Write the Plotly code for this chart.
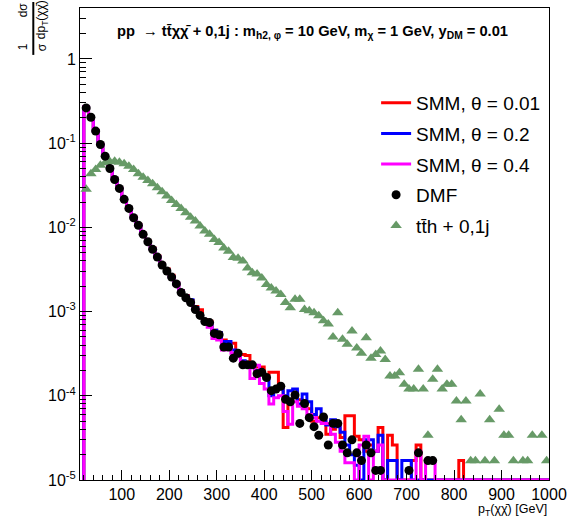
import numpy as np
import plotly.graph_objects as go

# ---------------- data ----------------
BIN_LOW = 20
BIN_WIDTH = 10
N_BINS = 98
FLOOR = 1e-5  # empty bins are drawn at the bottom of the frame (ROOT style)

smm_001 = [
    0.270, 0.205, 0.142, 0.098, 0.0715, 0.0512, 0.0378, 0.0295, 0.0220, 0.0172,
    0.0133, 0.0109, 0.0085, 0.0069, 0.0057, 0.0046, 0.0037, 0.0032, 0.0027, 0.0022,
    0.00178, 0.00155, 0.00135, 0.00115,
    1.05e-3, 8.0e-4, 7.7e-4, 6.0e-4, 5.6e-4, 4.6e-4, 4.2e-4, 4.2e-4, 3.1e-4, 3.1e-4,
    3.0e-4, 2.3e-4, 2.2e-4, 2.2e-4, 1.7e-4, 1.9e-4, 1.9e-4, 1.25e-4, 4.2e-5, 9.0e-5,
    1.1e-4, 9.0e-5, 8.0e-5, 7.0e-5, 5.0e-5, 5.5e-5, 5.0e-5, 3.5e-5, 4.0e-5, 4.5e-5,
    3.2e-5, 5.8e-5, 5.8e-5, 3.3e-5, 3.0e-5, 2.2e-5, 2.6e-5, 2.2e-5, 4.2e-5,
    0, 3.4e-5, 2.6e-5, 0, 0, 0, 1.7e-5, 2.6e-5,
    0, 0, 0, 0, 0, 0, 0, 0,
    1.7e-5,
    0, 0, 0, 0, 0, 0, 0, 0, 0, 0, 0, 0, 0, 0, 0, 0, 0, 0,
]

smm_02 = [
    0.268, 0.204, 0.140, 0.097, 0.0708, 0.0505, 0.0374, 0.0292, 0.0217, 0.0170,
    0.0131, 0.0107, 0.0084, 0.0068, 0.0056, 0.0045, 0.00365, 0.0031, 0.0026, 0.00218,
    0.00175, 0.00152, 0.00138, 0.00112,
    9.0e-4, 7.5e-4, 7.0e-4, 6.0e-4, 5.6e-4, 4.4e-4, 4.4e-4, 3.5e-4, 3.0e-4, 2.6e-4,
    2.4e-4, 2.3e-4, 2.0e-4, 1.8e-4, 1.6e-4, 1.0e-4, 1.2e-4, 1.2e-4, 1.0e-4, 1.15e-4,
    1.2e-4, 8.0e-5, 1.05e-4, 8.5e-5, 6.0e-5, 7.0e-5, 5.5e-5, 4.5e-5, 5.2e-5, 4.3e-5,
    3.7e-5, 2.6e-5, 2.0e-5, 1.5e-5, 0, 3.0e-5, 3.0e-5, 2.2e-5, 3.4e-5,
    0, 1.7e-5, 1.7e-5, 0, 1.7e-5, 1.7e-5,
    0, 0, 0, 0, 0, 0, 0, 0, 0, 0, 0, 0, 0, 0, 0, 0, 0, 0, 0, 0,
    0, 0, 0, 0, 0, 0, 0, 0, 0,
]

smm_04 = [
    0.272, 0.203, 0.139, 0.0965, 0.0700, 0.0500, 0.0370, 0.0290, 0.0215, 0.0168,
    0.0130, 0.0106, 0.0083, 0.0068, 0.0055, 0.0045, 0.0036, 0.0030, 0.0026, 0.00213,
    0.00170, 0.00148, 0.00130, 0.00106,
    9.0e-4, 7.8e-4, 6.5e-4, 4.8e-4, 4.6e-4, 3.5e-4, 3.7e-4, 3.2e-4, 2.9e-4, 2.5e-4,
    2.4e-4, 1.6e-4, 2.3e-4, 1.4e-4, 1.2e-4, 8.0e-5, 9.5e-5, 1.0e-4, 6.5e-5, 4.6e-5,
    8.5e-5, 7.5e-5, 7.0e-5, 6.0e-5, 5.5e-5, 5.0e-5, 4.7e-5, 4.7e-5, 3.5e-5, 2.8e-5,
    2.2e-5, 1.6e-5, 1.6e-5, 0, 2.6e-5, 3.3e-5, 0, 2.2e-5, 2.6e-5,
    0, 0, 0, 0, 0, 0, 0,
    2.2e-5, 0, 1.7e-5, 1.7e-5,
    0, 0, 0, 0, 0, 0, 0, 0, 0, 0, 0, 0, 0, 0, 0, 0, 0, 0, 0, 0, 0, 0, 0, 0,
]

dmf = [
    0.262, 0.203, 0.139, 0.0965, 0.0701, 0.0500, 0.0370, 0.0290, 0.0215, 0.0168,
    0.0130, 0.0106, 0.00826, 0.00675, 0.00548, 0.00444, 0.00357, 0.00303, 0.00257, 0.00213,
    0.00168, 0.00146, 0.00128, 0.00106,
    9.0e-4, 7.6e-4, 7.4e-4, 5.5e-4, 5.3e-4, 3.8e-4, 3.8e-4, 2.8e-4, 3.2e-4, 2.33e-4,
    2.33e-4, 2.33e-4, 1.83e-4, 1.9e-4, 1.65e-4, 1.15e-4, 1.2e-4, 1.3e-4, 9.1e-5, 8.5e-5,
    1.02e-4, 4.7e-5, 8.1e-5, 5.5e-5, 4.3e-5, 3.4e-5, 5.6e-5, 2.6e-5, 4.7e-5, 4.7e-5,
    2.6e-5, 2.1e-5, 3.0e-5, 2.1e-5, 1.7e-5, 2.6e-5, 2.1e-5, 1.3e-5, 1.3e-5,
    None, None, None, None, None, 1.3e-5, None, 2.1e-5, None, 1.7e-5, 1.7e-5,
    None, None, None, None, None, None, None, None, None, None, None, None,
    None, None, None, None, None, None, None, None, None, None, None, None,
]

tth = [
    0.0283, 0.0432, 0.0487, 0.0548, 0.0584, 0.0600, 0.0611, 0.0595, 0.0568, 0.0533,
    0.0487, 0.0432, 0.0395, 0.0361, 0.0329, 0.0295, 0.0264, 0.0235, 0.0209, 0.0187,
    0.0168, 0.0149, 0.0132, 0.0119,
    0.0104, 0.00904, 0.0083, 0.0072, 0.0066, 0.0057, 0.0052, 0.0044, 0.0043, 0.0040,
    0.0033, 0.0029, 0.0028, 0.0025, 0.0021, 0.0019, 0.00175, 0.0016, 0.00128, 0.00111,
    0.0014, 0.0014, 0.00106, 0.00102, 0.00097, 0.00089, 0.00078, 0.00071, 0.00050, 0.00097,
    0.00047, 0.00041, 0.00059, 0.00037, 0.00032, 0.00049, 0.00028, 0.00031, 0.00034,
    2.7e-4, 1.72e-4, 1.72e-4, 1.88e-4, 1.37e-4, 1.2e-4, 1.2e-4, 2.07e-4, 1.2e-4, 3.4e-5,
    1.57e-4, 2.07e-4, 1.2e-4, 1.37e-4, 1.37e-4, 8.7e-5, 5.2e-5, 8.7e-5, 1.69e-5, 1.69e-5,
    1.05e-4, 1.69e-5, 5.2e-5, 1.69e-5, 6.9e-5, 3.4e-5, 3.4e-5, 1.69e-5, None, 1.69e-5,
    1.69e-5, 3.4e-5, None, 3.4e-5, 1.69e-5,
]

x_ticks = [100, 200, 300, 400, 500, 600, 700, 800, 900, 1000]
y_ticks = [1e-5, 1e-4, 1e-3, 1e-2, 1e-1, 1]
y_ticktext = ["10<sup>-5</sup>", "10<sup>-4</sup>", "10<sup>-3</sup>",
              "10<sup>-2</sup>", "10<sup>-1</sup>", "1"]

# ---------------- helpers ----------------
edges = BIN_LOW + BIN_WIDTH * np.arange(N_BINS + 1)
centers = edges[:-1] + BIN_WIDTH / 2


def step_xy(values):
    v = np.array([val if val > 0 else FLOOR for val in values], dtype=float)
    xs = np.concatenate([[edges[0]], edges[:-1], [edges[-1]]])
    ys = np.concatenate([[FLOOR], v, [v[-1]]])
    return xs, ys


FONT = "Liberation Sans, Arial, Helvetica, sans-serif"

fig = go.Figure()

hists = [
    (smm_001, "#ff0000", "SMM, θ = 0.01", "g1"),
    (smm_02, "#0000ff", "SMM, θ = 0.2", "g2"),
    (smm_04, "#ff00ff", "SMM, θ = 0.4", "g3"),
]
for i, (vals, col, name, grp) in enumerate(hists):
    xs, ys = step_xy(vals)
    fig.add_trace(go.Scatter(
        x=xs, y=ys, mode="lines", line=dict(color=col, width=3, shape="hv"),
        name=name, legendgroup=grp, legendrank=i + 1,
    ))

fig.add_trace(go.Scatter(
    x=centers, y=tth, mode="markers",
    marker=dict(symbol="triangle-up", size=10, color="#679a67"),
    name="tt\u0304h + 0,1j", legendgroup="g5", legendrank=5,
))
fig.add_trace(go.Scatter(
    x=centers, y=dmf, mode="markers",
    marker=dict(symbol="circle", size=9, color="black"),
    name="DMF", legendgroup="g4", legendrank=4,
))

L, R, T, B = 80, 22, 7, 37
W, H = 574, 517
pw, ph = W - L - R, H - T - B


def px_x(px):
    return (px - L) / pw


def px_y(py):
    return (H - B - py) / ph


fig.update_layout(
    width=W, height=H,
    margin=dict(l=L, r=R, t=T, b=B, pad=0),
    paper_bgcolor="white", plot_bgcolor="white",
    font=dict(family=FONT, color="black"),
    showlegend=True,
    legend=dict(
        x=px_x(378), y=px_y(83), xanchor="left", yanchor="top",
        font=dict(size=19, family=FONT),
        bgcolor="rgba(255,255,255,0)", borderwidth=0,
        tracegroupgap=3, itemwidth=30,
    ),
    xaxis=dict(
        range=[12, 1000], showline=True, linecolor="black", linewidth=1, mirror=True,
        showgrid=False, zeroline=False,
        ticks="inside", ticklen=10, tickwidth=1, tickcolor="black",
        tickvals=x_ticks, ticktext=[str(v) for v in x_ticks],
        tickfont=dict(size=16, family=FONT),
        minor=dict(ticks="inside", ticklen=5, tick0=0, dtick=20, tickcolor="black", showgrid=False),
    ),
    yaxis=dict(
        type="log", range=[-5, 0.605], showline=True, linecolor="black", linewidth=1,
        mirror=True, showgrid=False, zeroline=False,
        ticks="inside", ticklen=12, tickwidth=1, tickcolor="black",
        tickvals=y_ticks, ticktext=y_ticktext,
        tickfont=dict(size=16, family=FONT),
        minor=dict(ticks="inside", ticklen=6, dtick="D1", tickcolor="black", showgrid=False),
    ),
)

ann = []
ann.append(dict(
    text="<b>pp  \u2192 tt\u0304\u03c7\u03c7\u0304 + 0,1j : m<sub>h2, \u03c6</sub> = 10 GeV, "
         "m<sub>\u03c7</sub> = 1 GeV, y<sub>DM</sub> = 0.01</b>",
    x=px_x(314), y=px_y(31), xref="paper", yref="paper",
    xanchor="center", yanchor="middle", showarrow=False,
    font=dict(size=14.7, family=FONT),
))
ann.append(dict(
    text="p<sub>T</sub>(\u03c7\u03c7\u0304) [GeV]",
    x=px_x(552), y=px_y(510), xref="paper", yref="paper",
    xanchor="right", yanchor="middle", showarrow=False,
    font=dict(size=12.5, family=FONT),
))
# rotated fraction for the y-axis title
for txt, cx, cy in [("1", 23, 46), ("\u03c3", 42, 46), ("d\u03c3", 23, 9),
                    ("dp<sub>T</sub>(\u03c7\u03c7\u0304)", 42, 19)]:
    ann.append(dict(
        text=txt, x=px_x(cx), y=px_y(cy), xref="paper", yref="paper",
        xanchor="center", yanchor="middle", showarrow=False, textangle=-90,
        font=dict(size=12, family=FONT),
    ))
fig.update_layout(annotations=ann)
fig.add_shape(type="line", xref="paper", yref="paper",
              x0=px_x(33), x1=px_x(33), y0=px_y(1), y1=px_y(54),
              line=dict(color="black", width=2))

fig.write_html("out.html")
